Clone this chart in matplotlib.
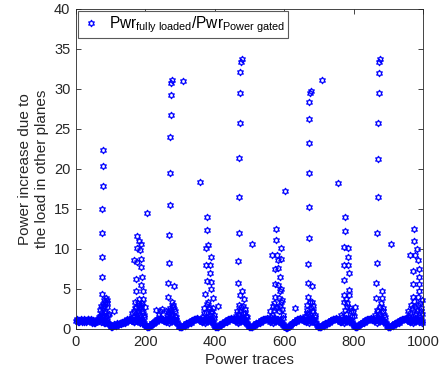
#!/usr/bin/env python3
# power ratio per trace: fully loaded vs power gated
import numpy as np
import matplotlib.pyplot as plt
from matplotlib.path import Path

# baseline band, one value every 4 traces
trazas_base = list(range(0, 1000, 4))
base_y = [
    1.0, 1.1, 0.9, 1.0, 1.1, 1.0, 0.9, 1.1, 1.0, 1.2, 1.1, 1.0, 0.9, 0.7, 0.8, 1.0, 1.2, 1.1, 0.9, 1.3, 1.0, 0.7, 1.1, 0.8, 0.6,
    0.4, 0.3, 0.4, 0.5, 0.5, 0.6, 0.6, 0.7, 0.8, 0.8, 0.9, 1.0, 1.1, 1.1, 1.2, 1.0, 1.1, 0.9, 1.3, 1.0, 1.2, 0.8, 1.1, 0.9, 0.7,
    0.5, 0.3, 0.2, 0.4, 0.5, 0.7, 0.8, 1.0, 1.1, 1.2, 1.3, 1.3, 1.2, 1.1, 1.0, 0.9, 1.1, 0.8, 1.2, 1.0, 1.3, 0.9, 1.1, 0.7, 0.4,
    0.2, 0.3, 0.4, 0.5, 0.6, 0.7, 0.8, 0.9, 1.0, 1.1, 1.2, 1.3, 1.3, 1.2, 1.1, 1.0, 0.9, 1.1, 0.8, 1.2, 1.0, 1.3, 0.9, 1.1, 0.7,
    0.4, 0.2, 0.3, 0.4, 0.6, 0.7, 0.8, 0.9, 1.0, 1.1, 1.2, 1.3, 1.3, 1.2, 1.1, 1.0, 1.1, 0.8, 1.2, 1.0, 1.3, 0.9, 1.1, 0.7, 0.5,
    0.3, 0.2, 0.3, 0.5, 0.6, 0.7, 0.8, 0.9, 1.0, 1.1, 1.2, 1.3, 1.3, 1.2, 1.1, 0.9, 1.1, 0.8, 1.2, 1.0, 1.3, 0.9, 1.1, 0.8, 0.6,
    0.4, 0.2, 0.1, 0.3, 0.5, 0.6, 0.8, 0.9, 1.0, 1.1, 1.2, 1.3, 1.3, 1.2, 1.1, 1.0, 0.9, 1.1, 0.8, 1.2, 1.0, 1.3, 0.9, 0.7, 0.4,
    0.2, 0.3, 0.4, 0.5, 0.6, 0.7, 0.8, 0.9, 1.0, 1.1, 1.2, 1.3, 1.3, 1.2, 1.1, 1.0, 0.9, 1.1, 0.8, 1.2, 1.0, 1.3, 0.9, 1.1, 0.7,
    0.5, 0.3, 0.2, 0.4, 0.5, 0.7, 0.8, 0.9, 1.0, 1.1, 1.2, 1.3, 1.3, 1.2, 1.1, 1.0, 1.1, 0.8, 1.2, 1.0, 1.3, 0.9, 1.0, 0.7, 0.4,
    0.2, 0.3, 0.4, 0.5, 0.6, 0.7, 0.8, 0.9, 1.0, 1.1, 1.2, 1.3, 1.3, 1.2, 1.1, 1.0, 0.9, 1.1, 0.8, 1.2, 1.0, 1.3, 0.9, 1.1, 0.8,
]
# the traces in between (2, 6, 10, ...) sit a bit higher or lower
trazas_base2 = list(range(2, 1000, 4))
base2_y = [
    1.2, 0.9, 1.1, 1.2, 0.9, 1.2, 1.1, 0.9, 1.2, 1.0, 1.3, 0.8, 1.1, 0.9, 1.0, 1.2, 1.0, 1.3, 1.1, 1.5, 0.8, 1.0, 0.9, 0.6, 0.5,
    0.3, 0.4, 0.6, 0.4, 0.7, 0.5, 0.8, 0.6, 0.9, 1.0, 0.8, 1.2, 1.0, 1.3, 1.1, 1.3, 0.9, 1.2, 1.1, 1.4, 1.0, 1.3, 0.8, 1.0, 0.5,
    0.4, 0.2, 0.3, 0.5, 0.7, 0.6, 0.9, 0.9, 1.2, 1.1, 1.4, 1.2, 1.3, 1.0, 1.2, 1.0, 1.3, 1.0, 1.4, 1.1, 1.2, 1.0, 0.9, 0.6, 0.3,
    0.3, 0.2, 0.5, 0.4, 0.7, 0.6, 0.9, 0.8, 1.1, 1.0, 1.3, 1.2, 1.4, 1.1, 1.2, 0.9, 1.1, 1.2, 1.0, 1.4, 1.1, 1.2, 1.0, 0.9, 0.5,
    0.3, 0.3, 0.2, 0.5, 0.5, 0.8, 0.7, 1.0, 0.9, 1.2, 1.1, 1.4, 1.2, 1.3, 1.0, 1.2, 0.9, 1.1, 1.0, 1.4, 1.1, 1.2, 0.9, 0.6, 0.4,
    0.2, 0.3, 0.4, 0.4, 0.7, 0.6, 0.9, 0.8, 1.1, 1.0, 1.3, 1.2, 1.4, 1.1, 1.2, 1.0, 1.3, 1.0, 1.4, 1.1, 1.2, 1.0, 0.9, 0.7, 0.5,
    0.3, 0.1, 0.2, 0.4, 0.4, 0.7, 0.7, 1.0, 0.9, 1.2, 1.1, 1.4, 1.2, 1.3, 1.0, 1.1, 1.0, 1.2, 1.0, 1.4, 1.1, 1.1, 0.8, 0.5, 0.3,
    0.3, 0.2, 0.5, 0.4, 0.7, 0.6, 0.9, 0.8, 1.1, 1.0, 1.3, 1.2, 1.4, 1.1, 1.2, 0.9, 1.0, 1.2, 1.0, 1.4, 1.1, 1.2, 1.0, 0.9, 0.6,
    0.4, 0.2, 0.3, 0.5, 0.6, 0.6, 0.9, 0.8, 1.1, 1.0, 1.3, 1.2, 1.4, 1.1, 1.2, 1.1, 1.2, 1.0, 1.4, 1.1, 1.2, 1.0, 0.9, 0.6, 0.3,
    0.3, 0.2, 0.5, 0.4, 0.7, 0.6, 0.9, 0.8, 1.1, 1.0, 1.3, 1.2, 1.4, 1.1, 1.2, 0.9, 1.0, 1.2, 1.0, 1.4, 1.1, 1.2, 1.0, 1.3, 1.0,
]

# the ten spikes (one per ~100 traces)
picos_x = [
    # ~75
    78, 78, 77, 76, 76, 75, 75, 74, 73, 72, 80, 84, 88, 77, 82, 90, 79, 86, 70, 74, 80, 85, 92,
    # ~178
    176, 183, 187, 176, 185, 187, 168, 176, 188, 174, 190, 188, 174, 192, 182, 194, 171, 190,
    161, 180, 193, 176, 185, 170, 188, 196, 166, 182,
    # ~272
    278, 274, 274, 274, 271, 271, 271, 269, 269, 266, 282, 266, 276, 280, 272, 268, 284, 278, 262, 286,
    # ~378
    377, 377, 381, 374, 388, 374, 386, 386, 377, 390, 390, 372, 395, 377, 382, 368, 392, 398, 385,
    # ~472
    477, 475, 474, 472, 472, 471, 470, 471, 467, 467, 478, 472, 484, 476, 465, 486, 480, 470, 490, 462,
    # ~578
    576, 576, 566, 578, 583, 574, 583, 588, 573, 582, 588, 573, 586, 590, 559, 590, 590, 590,
    580, 594, 570, 596, 565,
    # ~672
    676, 674, 672, 672, 672, 671, 671, 671, 669, 669, 681, 669, 680, 667, 677, 684, 665, 688, 660, 674,
    # ~778
    775, 775, 772, 785, 785, 772, 785, 786, 772, 786, 772, 788, 804, 780, 771, 792, 765, 795, 778,
    # ~872
    876, 874, 874, 873, 871, 871, 871, 868, 868, 866, 881, 866, 881, 876, 870, 885, 862, 888, 878,
    # ~975
    974, 974, 984, 964, 978, 986, 972, 988, 989, 972, 988, 988, 970, 986, 958, 992, 978, 997,
    966, 982, 994, 960, 990,
]
picos_y = [
    22.4, 20.4, 17.9, 15.0, 12.0, 9.0, 6.5, 4.4, 2.9, 2.0, 3.6, 3.4, 3.6, 3.1, 2.9, 3.3, 2.6, 3.9, 1.6, 1.5, 1.8, 2.2, 1.7,
    11.6, 11.0, 10.6, 10.1, 9.9, 8.8, 8.6, 8.4, 7.7, 6.3, 6.5, 5.5, 4.7, 4.7, 3.8, 3.8, 3.4, 3.2,
    2.0, 2.4, 2.0, 1.6, 1.8, 2.6, 2.8, 1.7, 1.6, 3.0,
    31.1, 30.8, 29.3, 26.75, 24.0, 19.5, 15.5, 11.75, 8.3, 5.8, 5.4, 4.0, 3.4, 2.8, 2.4, 2.0, 2.2, 1.8, 1.6, 1.6,
    14.0, 12.4, 10.5, 10.1, 9.0, 8.0, 8.0, 7.0, 6.0, 5.9, 5.0, 4.4, 3.9, 3.1, 2.5, 2.0, 2.2, 1.7, 1.6,
    33.7, 33.4, 32.1, 29.5, 25.8, 21.4, 16.5, 12.0, 8.5, 5.7, 4.75, 4.25, 3.8, 2.8, 2.2, 2.5, 2.0, 1.7, 1.6, 1.6,
    12.5, 11.1, 9.25, 9.25, 8.6, 7.5, 7.6, 6.5, 5.6, 5.5, 4.75, 4.0, 3.9, 3.4, 2.2, 10.1, 8.7, 5.0,
    2.8, 2.5, 2.4, 1.8, 1.7,
    29.8, 29.5, 28.4, 26.3, 23.2, 19.5, 15.3, 11.4, 8.1, 5.7, 5.4, 4.0, 3.4, 3.0, 2.6, 2.2, 2.0, 1.8, 1.6, 1.7,
    14.0, 12.3, 10.2, 10.1, 9.0, 8.0, 8.0, 7.0, 6.1, 4.9, 4.25, 4.25, 2.8, 2.8, 3.4, 2.2, 1.8, 1.6, 1.9,
    33.75, 33.4, 32.0, 29.5, 25.7, 21.2, 16.5, 12.0, 8.3, 5.7, 4.75, 3.9, 3.9, 2.8, 2.3, 2.2, 1.8, 1.7, 1.6,
    12.5, 11.0, 10.0, 9.25, 9.3, 8.6, 7.3, 7.5, 6.5, 5.6, 5.6, 4.7, 4.0, 4.0, 2.2, 3.2, 2.8, 1.9,
    3.0, 2.4, 2.6, 1.6, 1.5,
]

# low points that make the bushy base of each spike
matas_x = [
    66, 70, 83, 87, 94, 76, 89,
    164, 168, 172, 178, 184, 190, 195, 198, 179, 186,
    264, 270, 275, 279, 283, 288, 273,
    366, 370, 375, 380, 384, 389, 394, 397,
    460, 466, 469, 474, 482, 488, 493,
    562, 567, 571, 577, 584, 588, 593, 598,
    662, 666, 670, 675, 679, 683, 690,
    768, 774, 777, 782, 790, 797, 800,
    864, 868, 874, 879, 884, 890,
    956, 962, 968, 975, 980, 985, 993, 998, 976,
]
matas_y = [
    1.5, 2.4, 2.0, 1.6, 1.9, 1.7, 2.7,
    1.5, 2.2, 2.8, 2.0, 2.6, 2.2, 1.5, 2.7, 3.3, 3.0,
    1.4, 2.6, 2.2, 3.0, 2.5, 1.5, 1.8,
    1.5, 2.6, 2.1, 3.4, 2.8, 2.0, 2.6, 1.4,
    1.4, 1.9, 3.0, 2.3, 2.9, 2.0, 1.5,
    1.5, 2.9, 3.3, 2.6, 2.2, 2.9, 3.6, 1.4,
    1.5, 2.4, 1.9, 3.4, 2.2, 2.9, 1.5,
    1.5, 2.4, 3.7, 3.2, 2.6, 2.1, 1.6,
    1.5, 2.4, 1.9, 3.2, 2.6, 1.5,
    1.5, 2.0, 2.6, 3.5, 2.0, 3.0, 2.2, 3.6, 1.7,
]

# isolated points between the spikes
sueltos_x = [109, 205, 232, 242, 249, 238, 258, 265, 309, 357, 408, 506, 602, 631, 708, 756, 907]
sueltos_y = [2.25, 14.5, 2.4, 2.2, 2.5, 1.9, 2.3, 2.1, 31.0, 18.4, 2.9, 10.6, 17.3, 2.6, 31.1, 18.3, 10.6]

# marker like matlab 'hexagram'
ang_ext = np.deg2rad(90 + 60 * np.arange(6))
ang_int = ang_ext + np.deg2rad(30)
verts = []
for a, b in zip(ang_ext, ang_int):
    verts.append((np.cos(a), np.sin(a)))
    verts.append((np.cos(b) / np.sqrt(3), np.sin(b) / np.sqrt(3)))
verts.append(verts[0])
hexagrama = Path(verts, [Path.MOVETO] + [Path.LINETO] * 11 + [Path.CLOSEPOLY])

plt.rcParams['font.family'] = 'Liberation Sans'
plt.rcParams['mathtext.fontset'] = 'custom'
plt.rcParams['mathtext.rm'] = 'Liberation Sans'
plt.rcParams['mathtext.it'] = 'Liberation Sans'

gris = '#262626'
fig = plt.figure(figsize=(4.46, 3.81), dpi=100)
ax = fig.add_axes([0.1704, 0.1365, 0.778, 0.840])

x_todo = trazas_base + trazas_base2 + picos_x + matas_x + sueltos_x
y_todo = base_y + base2_y + picos_y + matas_y + sueltos_y
ax.plot(x_todo, y_todo, linestyle='none', marker=hexagrama, ms=4.6, mfc='none',
        mec='#0000ff', mew=0.9, clip_on=False,
        label=r'Pwr$_{\mathrm{fully\ loaded}}$/Pwr$_{\mathrm{Power\ gated}}$')

ax.set_xlim(0, 1000)
ax.set_ylim(0, 40)
ax.set_xticks(range(0, 1001, 200))
ax.set_yticks(range(0, 41, 5))
ax.tick_params(direction='in', length=3.5, width=0.6, top=True, right=True,
               labelsize=10.5, colors=gris, pad=4)
for s in ax.spines.values():
    s.set_color(gris)
    s.set_linewidth(0.6)

ax.set_xlabel('Power traces', fontsize=11, color=gris, labelpad=3)
ax.set_ylabel('Power increase due to\nthe load in other planes', fontsize=11,
              color=gris, labelpad=4)

leg = ax.legend(loc='upper left', fontsize=11.2, numpoints=1, handlelength=1.2,
                handletextpad=0.6, borderaxespad=0.15, borderpad=0.2,
                fancybox=False, framealpha=1, edgecolor='0.35')
leg.get_frame().set_linewidth(0.8)

plt.savefig('out.png', dpi=100)
plt.close()
